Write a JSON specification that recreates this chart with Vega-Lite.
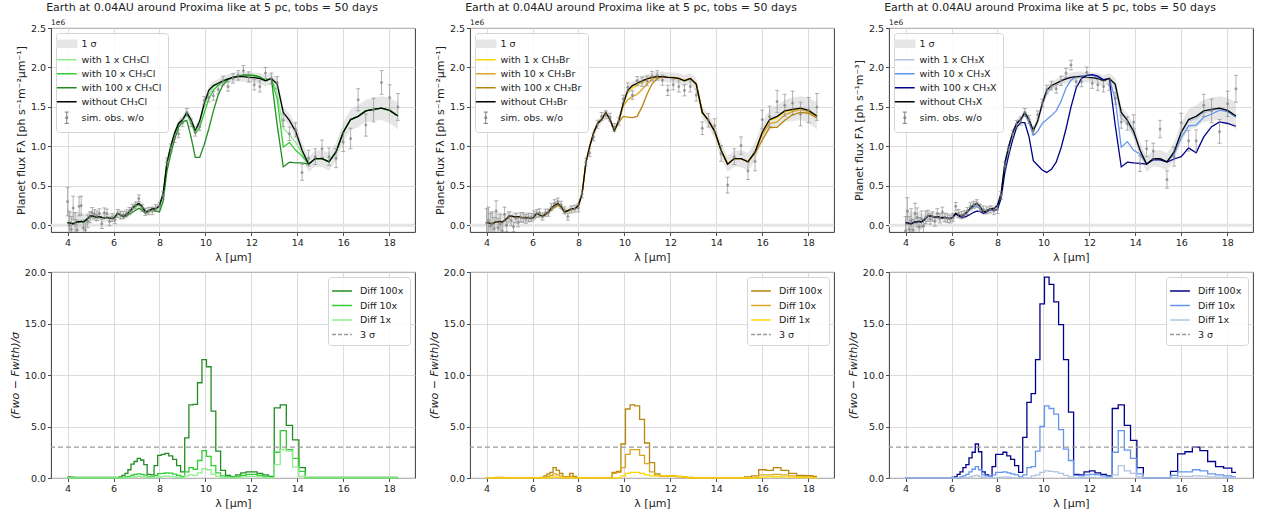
{
"$schema": "https://vega.github.io/schema/vega-lite/v6.json",
"padding": {"left": 8, "top": 1, "right": 5, "bottom": 5},
"datasets": {"d": [
{"l":4.0,"w":0.035,"s":0.18,"oA":0.30,"oB":0.03,"oC":-0.07,"A1":0.035,"A2":0.035,"A3":0.035,"B1":0.035,"B2":0.035,"B3":0.035,"C1":0.035,"C2":0.035,"C3":0.035,"dA1":0.01,"dA2":0.02,"dA3":0.1,"dB1":0.01,"dB2":0.02,"dB3":0.03,"dC1":0.01,"dC2":0.02,"dC3":0.03},
{"l":4.08,"w":0.03,"s":0.17,"oA":0.0,"oB":0.06,"oC":0.18,"A1":0.03,"A2":0.03,"A3":0.03,"B1":0.03,"B2":0.03,"B3":0.03,"C1":0.03,"C2":0.03,"C3":0.03,"dA1":0.01,"dA2":0.02,"dA3":0.1,"dB1":0.01,"dB2":0.02,"dB3":0.03,"dC1":0.01,"dC2":0.02,"dC3":0.03},
{"l":4.162,"w":0.025,"s":0.16,"oA":-0.05,"oB":-0.01,"oC":-0.05,"A1":0.025,"A2":0.025,"A3":0.025,"B1":0.025,"B2":0.025,"B3":0.025,"C1":0.025,"C2":0.025,"C3":0.025,"dA1":0.01,"dA2":0.02,"dA3":0.08,"dB1":0.01,"dB2":0.02,"dB3":0.03,"dC1":0.01,"dC2":0.02,"dC3":0.03},
{"l":4.245,"w":0.02,"s":0.15,"oA":0.22,"oB":0.02,"oC":0.06,"A1":0.02,"A2":0.02,"A3":0.02,"B1":0.02,"B2":0.02,"B3":0.02,"C1":0.02,"C2":0.02,"C3":0.02,"dA1":0.01,"dA2":0.02,"dA3":0.08,"dB1":0.01,"dB2":0.02,"dB3":0.03,"dC1":0.01,"dC2":0.02,"dC3":0.03},
{"l":4.33,"w":0.03,"s":0.14,"oA":0.02,"oB":-0.04,"oC":-0.06,"A1":0.03,"A2":0.03,"A3":0.03,"B1":0.03,"B2":0.03,"B3":0.03,"C1":0.03,"C2":0.03,"C3":0.03,"dA1":0.01,"dA2":0.02,"dA3":0.05,"dB1":0.01,"dB2":0.02,"dB3":0.03,"dC1":0.01,"dC2":0.02,"dC3":0.03},
{"l":4.416,"w":0.045,"s":0.13,"oA":-0.06,"oB":0.18,"oC":0.15,"A1":0.045,"A2":0.045,"A3":0.045,"B1":0.045,"B2":0.045,"B3":0.045,"C1":0.045,"C2":0.045,"C3":0.045,"dA1":0.01,"dA2":0.02,"dA3":0.05,"dB1":0.01,"dB2":0.02,"dB3":0.05,"dC1":0.01,"dC2":0.02,"dC3":0.03},
{"l":4.505,"w":0.045,"s":0.12,"oA":0.24,"oB":-0.03,"oC":0.10,"A1":0.045,"A2":0.045,"A3":0.045,"B1":0.045,"B2":0.045,"B3":0.045,"C1":0.045,"C2":0.045,"C3":0.045,"dA1":0.01,"dA2":0.02,"dA3":0.05,"dB1":0.01,"dB2":0.03,"dB3":0.06,"dC1":0.01,"dC2":0.02,"dC3":0.03},
{"l":4.595,"w":0.05,"s":0.12,"oA":0.25,"oB":0.02,"oC":-0.02,"A1":0.05,"A2":0.05,"A3":0.05,"B1":0.05,"B2":0.05,"B3":0.05,"C1":0.05,"C2":0.05,"C3":0.05,"dA1":0.01,"dA2":0.02,"dA3":0.05,"dB1":0.01,"dB2":0.03,"dB3":0.06,"dC1":0.01,"dC2":0.02,"dC3":0.03},
{"l":4.687,"w":0.04,"s":0.10,"oA":-0.03,"oB":-0.07,"oC":0.08,"A1":0.04,"A2":0.04,"A3":0.04,"B1":0.04,"B2":0.04,"B3":0.04,"C1":0.04,"C2":0.04,"C3":0.04,"dA1":0.01,"dA2":0.02,"dA3":0.05,"dB1":0.01,"dB2":0.03,"dB3":0.05,"dC1":0.01,"dC2":0.02,"dC3":0.03},
{"l":4.78,"w":0.06,"s":0.09,"oA":-0.06,"oB":0.14,"oC":-0.01,"A1":0.06,"A2":0.06,"A3":0.06,"B1":0.06,"B2":0.06,"B3":0.06,"C1":0.06,"C2":0.06,"C3":0.06,"dA1":0.01,"dA2":0.02,"dA3":0.05,"dB1":0.01,"dB2":0.02,"dB3":0.03,"dC1":0.01,"dC2":0.02,"dC3":0.03},
{"l":4.876,"w":0.085,"s":0.08,"oA":0.05,"oB":0.0,"oC":0.10,"A1":0.085,"A2":0.085,"A3":0.085,"B1":0.085,"B2":0.085,"B3":0.085,"C1":0.085,"C2":0.085,"C3":0.085,"dA1":0.01,"dA2":0.02,"dA3":0.05,"dB1":0.01,"dB2":0.02,"dB3":0.03,"dC1":0.01,"dC2":0.02,"dC3":0.03},
{"l":4.973,"w":0.115,"s":0.07,"oA":0.10,"oB":0.10,"oC":0.12,"A1":0.115,"A2":0.115,"A3":0.115,"B1":0.115,"B2":0.115,"B3":0.115,"C1":0.115,"C2":0.115,"C3":0.115,"dA1":0.01,"dA2":0.02,"dA3":0.05,"dB1":0.01,"dB2":0.02,"dB3":0.03,"dC1":0.01,"dC2":0.02,"dC3":0.03},
{"l":5.073,"w":0.12,"s":0.065,"oA":0.16,"oB":0.06,"oC":0.08,"A1":0.12,"A2":0.12,"A3":0.12,"B1":0.12,"B2":0.12,"B3":0.12,"C1":0.12,"C2":0.12,"C3":0.12,"dA1":0.01,"dA2":0.02,"dA3":0.05,"dB1":0.01,"dB2":0.02,"dB3":0.03,"dC1":0.01,"dC2":0.02,"dC3":0.03},
{"l":5.174,"w":0.11,"s":0.06,"oA":0.14,"oB":-0.02,"oC":0.11,"A1":0.11,"A2":0.11,"A3":0.11,"B1":0.11,"B2":0.11,"B3":0.11,"C1":0.11,"C2":0.11,"C3":0.11,"dA1":0.01,"dA2":0.02,"dA3":0.05,"dB1":0.01,"dB2":0.02,"dB3":0.03,"dC1":0.01,"dC2":0.02,"dC3":0.03},
{"l":5.278,"w":0.105,"s":0.06,"oA":0.12,"oB":0.09,"oC":0.05,"A1":0.105,"A2":0.105,"A3":0.105,"B1":0.105,"B2":0.105,"B3":0.105,"C1":0.105,"C2":0.105,"C3":0.105,"dA1":0.01,"dA2":0.02,"dA3":0.05,"dB1":0.01,"dB2":0.02,"dB3":0.03,"dC1":0.01,"dC2":0.02,"dC3":0.03},
{"l":5.383,"w":0.11,"s":0.06,"oA":0.15,"oB":0.04,"oC":0.15,"A1":0.11,"A2":0.11,"A3":0.11,"B1":0.11,"B2":0.11,"B3":0.11,"C1":0.11,"C2":0.11,"C3":0.11,"dA1":0.01,"dA2":0.02,"dA3":0.05,"dB1":0.01,"dB2":0.02,"dB3":0.03,"dC1":0.01,"dC2":0.02,"dC3":0.03},
{"l":5.491,"w":0.10,"s":0.06,"oA":0.02,"oB":0.10,"oC":0.09,"A1":0.10,"A2":0.10,"A3":0.10,"B1":0.10,"B2":0.10,"B3":0.10,"C1":0.10,"C2":0.10,"C3":0.10,"dA1":0.01,"dA2":0.02,"dA3":0.05,"dB1":0.01,"dB2":0.02,"dB3":0.03,"dC1":0.01,"dC2":0.02,"dC3":0.03},
{"l":5.601,"w":0.095,"s":0.06,"oA":0.16,"oB":0.10,"oC":0.17,"A1":0.095,"A2":0.095,"A3":0.095,"B1":0.095,"B2":0.095,"B3":0.095,"C1":0.095,"C2":0.095,"C3":0.095,"dA1":0.01,"dA2":0.02,"dA3":0.05,"dB1":0.01,"dB2":0.02,"dB3":0.03,"dC1":0.01,"dC2":0.02,"dC3":0.03},
{"l":5.713,"w":0.10,"s":0.055,"oA":0.15,"oB":0.08,"oC":0.10,"A1":0.10,"A2":0.10,"A3":0.10,"B1":0.10,"B2":0.10,"B3":0.10,"C1":0.10,"C2":0.10,"C3":0.10,"dA1":0.01,"dA2":0.02,"dA3":0.05,"dB1":0.01,"dB2":0.02,"dB3":0.03,"dC1":0.01,"dC2":0.02,"dC3":0.03},
{"l":5.827,"w":0.09,"s":0.055,"oA":0.05,"oB":0.10,"oC":0.09,"A1":0.09,"A2":0.09,"A3":0.09,"B1":0.09,"B2":0.09,"B3":0.09,"C1":0.09,"C2":0.09,"C3":0.09,"dA1":0.01,"dA2":0.02,"dA3":0.05,"dB1":0.01,"dB2":0.02,"dB3":0.03,"dC1":0.01,"dC2":0.02,"dC3":0.03},
{"l":5.944,"w":0.085,"s":0.05,"oA":0.10,"oB":0.10,"oC":0.08,"A1":0.085,"A2":0.085,"A3":0.085,"B1":0.085,"B2":0.085,"B3":0.085,"C1":0.085,"C2":0.085,"C3":0.085,"dA1":0.01,"dA2":0.02,"dA3":0.05,"dB1":0.01,"dB2":0.02,"dB3":0.03,"dC1":0.01,"dC2":0.02,"dC3":0.03},
{"l":6.063,"w":0.105,"s":0.05,"oA":0.07,"oB":0.13,"oC":0.10,"A1":0.105,"A2":0.105,"A3":0.105,"B1":0.105,"B2":0.105,"B3":0.105,"C1":0.105,"C2":0.105,"C3":0.105,"dA1":0.01,"dA2":0.02,"dA3":0.05,"dB1":0.01,"dB2":0.02,"dB3":0.03,"dC1":0.01,"dC2":0.02,"dC3":0.05},
{"l":6.184,"w":0.15,"s":0.05,"oA":0.15,"oB":0.15,"oC":0.24,"A1":0.15,"A2":0.15,"A3":0.15,"B1":0.15,"B2":0.15,"B3":0.15,"C1":0.15,"C2":0.15,"C3":0.145,"dA1":0.01,"dA2":0.02,"dA3":0.05,"dB1":0.01,"dB2":0.02,"dB3":0.03,"dC1":0.01,"dC2":0.02,"dC3":0.1},
{"l":6.307,"w":0.13,"s":0.05,"oA":0.13,"oB":0.16,"oC":0.15,"A1":0.13,"A2":0.13,"A3":0.13,"B1":0.13,"B2":0.13,"B3":0.13,"C1":0.13,"C2":0.13,"C3":0.12,"dA1":0.01,"dA2":0.02,"dA3":0.1,"dB1":0.01,"dB2":0.02,"dB3":0.03,"dC1":0.01,"dC2":0.02,"dC3":0.35},
{"l":6.434,"w":0.115,"s":0.045,"oA":0.13,"oB":0.11,"oC":0.13,"A1":0.115,"A2":0.115,"A3":0.105,"B1":0.115,"B2":0.115,"B3":0.115,"C1":0.115,"C2":0.115,"C3":0.10,"dA1":0.01,"dA2":0.05,"dA3":0.25,"dB1":0.01,"dB2":0.02,"dB3":0.05,"dC1":0.01,"dC2":0.1,"dC3":0.6},
{"l":6.562,"w":0.14,"s":0.045,"oA":0.15,"oB":0.16,"oC":0.14,"A1":0.14,"A2":0.14,"A3":0.12,"B1":0.14,"B2":0.14,"B3":0.135,"C1":0.14,"C2":0.14,"C3":0.105,"dA1":0.01,"dA2":0.1,"dA3":0.45,"dB1":0.01,"dB2":0.05,"dB3":0.2,"dC1":0.01,"dC2":0.2,"dC3":1.0},
{"l":6.694,"w":0.17,"s":0.045,"oA":0.18,"oB":0.16,"oC":0.18,"A1":0.17,"A2":0.165,"A3":0.14,"B1":0.17,"B2":0.17,"B3":0.16,"C1":0.17,"C2":0.17,"C3":0.12,"dA1":0.05,"dA2":0.15,"dA3":0.8,"dB1":0.01,"dB2":0.15,"dB3":0.4,"dC1":0.01,"dC2":0.35,"dC3":1.3},
{"l":6.827,"w":0.22,"s":0.045,"oA":0.22,"oB":0.23,"oC":0.24,"A1":0.215,"A2":0.21,"A3":0.165,"B1":0.22,"B2":0.21,"B3":0.20,"C1":0.22,"C2":0.205,"C3":0.14,"dA1":0.1,"dA2":0.28,"dA3":1.35,"dB1":0.05,"dB2":0.25,"dB3":0.55,"dC1":0.1,"dC2":0.6,"dC3":1.95},
{"l":6.964,"w":0.255,"s":0.045,"oA":0.25,"oB":0.28,"oC":0.26,"A1":0.25,"A2":0.24,"A3":0.19,"B1":0.255,"B2":0.243,"B3":0.225,"C1":0.255,"C2":0.235,"C3":0.165,"dA1":0.12,"dA2":0.35,"dA3":1.6,"dB1":0.1,"dB2":0.4,"dB3":1.0,"dC1":0.2,"dC2":0.85,"dC3":2.5},
{"l":7.103,"w":0.275,"s":0.045,"oA":0.34,"oB":0.30,"oC":0.28,"A1":0.27,"A2":0.26,"A3":0.215,"B1":0.275,"B2":0.265,"B3":0.25,"C1":0.275,"C2":0.24,"C3":0.18,"dA1":0.15,"dA2":0.4,"dA3":1.9,"dB1":0.08,"dB2":0.3,"dB3":0.75,"dC1":0.25,"dC2":1.1,"dC3":3.3},
{"l":7.245,"w":0.24,"s":0.045,"oA":0.22,"oB":0.26,"oC":0.22,"A1":0.235,"A2":0.225,"A3":0.19,"B1":0.24,"B2":0.232,"B3":0.225,"C1":0.24,"C2":0.21,"C3":0.175,"dA1":0.12,"dA2":0.35,"dA3":1.75,"dB1":0.05,"dB2":0.2,"dB3":0.45,"dC1":0.15,"dC2":0.8,"dC3":2.55},
{"l":7.39,"w":0.17,"s":0.045,"oA":0.17,"oB":0.19,"oC":0.20,"A1":0.17,"A2":0.165,"A3":0.15,"B1":0.17,"B2":0.17,"B3":0.165,"C1":0.17,"C2":0.16,"C3":0.15,"dA1":0.08,"dA2":0.28,"dA3":1.3,"dB1":0.01,"dB2":0.05,"dB3":0.1,"dC1":0.05,"dC2":0.3,"dC3":0.6},
{"l":7.538,"w":0.185,"s":0.045,"oA":0.18,"oB":0.11,"oC":0.19,"A1":0.185,"A2":0.183,"A3":0.175,"B1":0.185,"B2":0.185,"B3":0.18,"C1":0.185,"C2":0.185,"C3":0.17,"dA1":0.03,"dA2":0.1,"dA3":0.35,"dB1":0.01,"dB2":0.02,"dB3":0.1,"dC1":0.01,"dC2":0.2,"dC3":0.3},
{"l":7.689,"w":0.21,"s":0.045,"oA":0.18,"oB":0.20,"oC":0.20,"A1":0.21,"A2":0.208,"A3":0.20,"B1":0.21,"B2":0.21,"B3":0.195,"C1":0.21,"C2":0.21,"C3":0.20,"dA1":0.03,"dA2":0.1,"dA3":0.3,"dB1":0.01,"dB2":0.15,"dB3":0.45,"dC1":0.01,"dC2":0.15,"dC3":0.15},
{"l":7.842,"w":0.21,"s":0.045,"oA":0.22,"oB":0.21,"oC":0.18,"A1":0.21,"A2":0.205,"A3":0.18,"B1":0.21,"B2":0.21,"B3":0.205,"C1":0.21,"C2":0.21,"C3":0.19,"dA1":0.08,"dA2":0.25,"dA3":1.2,"dB1":0.01,"dB2":0.02,"dB3":0.15,"dC1":0.01,"dC2":0.3,"dC3":1.1},
{"l":7.999,"w":0.25,"s":0.05,"oA":0.24,"oB":0.22,"oC":0.20,"A1":0.25,"A2":0.235,"A3":0.17,"B1":0.25,"B2":0.25,"B3":0.25,"C1":0.25,"C2":0.25,"C3":0.20,"dA1":0.12,"dA2":0.42,"dA3":2.2,"dB1":0.01,"dB2":0.02,"dB3":0.03,"dC1":0.01,"dC2":0.55,"dC3":2.3},
{"l":8.159,"w":0.40,"s":0.05,"oA":0.38,"oB":0.40,"oC":0.38,"A1":0.395,"A2":0.375,"A3":0.30,"B1":0.40,"B2":0.40,"B3":0.40,"C1":0.40,"C2":0.385,"C3":0.34,"dA1":0.15,"dA2":0.45,"dA3":2.3,"dB1":0.01,"dB2":0.02,"dB3":0.03,"dC1":0.08,"dC2":0.55,"dC3":2.3},
{"l":8.322,"w":0.79,"s":0.05,"oA":0.80,"oB":0.80,"oC":0.75,"A1":0.785,"A2":0.765,"A3":0.68,"B1":0.79,"B2":0.79,"B3":0.79,"C1":0.79,"C2":0.765,"C3":0.67,"dA1":0.18,"dA2":0.5,"dA3":2.4,"dB1":0.01,"dB2":0.02,"dB3":0.03,"dC1":0.1,"dC2":0.6,"dC3":2.5},
{"l":8.489,"w":1.0,"s":0.05,"oA":0.98,"oB":0.92,"oC":0.95,"A1":0.995,"A2":0.975,"A3":0.90,"B1":1.0,"B2":1.0,"B3":1.0,"C1":1.0,"C2":0.975,"C3":0.89,"dA1":0.15,"dA2":0.48,"dA3":2.15,"dB1":0.01,"dB2":0.02,"dB3":0.03,"dC1":0.08,"dC2":0.5,"dC3":2.15},
{"l":8.659,"w":1.17,"s":0.05,"oA":1.10,"oB":1.12,"oC":1.15,"A1":1.17,"A2":1.15,"A3":1.09,"B1":1.17,"B2":1.17,"B3":1.17,"C1":1.17,"C2":1.17,"C3":1.08,"dA1":0.1,"dA2":0.38,"dA3":1.8,"dB1":0.01,"dB2":0.02,"dB3":0.03,"dC1":0.01,"dC2":0.4,"dC3":1.8},
{"l":8.832,"w":1.29,"s":0.05,"oA":1.16,"oB":1.28,"oC":1.28,"A1":1.29,"A2":1.28,"A3":1.24,"B1":1.29,"B2":1.29,"B3":1.29,"C1":1.29,"C2":1.29,"C3":1.24,"dA1":0.07,"dA2":0.25,"dA3":1.2,"dB1":0.01,"dB2":0.02,"dB3":0.03,"dC1":0.01,"dC2":0.3,"dC3":1.2},
{"l":9.009,"w":1.34,"s":0.05,"oA":1.30,"oB":1.38,"oC":1.32,"A1":1.34,"A2":1.335,"A3":1.31,"B1":1.34,"B2":1.34,"B3":1.34,"C1":1.34,"C2":1.34,"C3":1.30,"dA1":0.05,"dA2":0.15,"dA3":0.6,"dB1":0.01,"dB2":0.02,"dB3":0.03,"dC1":0.01,"dC2":0.1,"dC3":0.55},
{"l":9.189,"w":1.43,"s":0.05,"oA":1.43,"oB":1.40,"oC":1.43,"A1":1.425,"A2":1.41,"A3":1.33,"B1":1.43,"B2":1.43,"B3":1.43,"C1":1.43,"C2":1.41,"C3":1.30,"dA1":0.2,"dA2":0.6,"dA3":3.9,"dB1":0.01,"dB2":0.02,"dB3":0.03,"dC1":0.01,"dC2":0.3,"dC3":3.95},
{"l":9.373,"w":1.34,"s":0.05,"oA":1.30,"oB":1.37,"oC":1.34,"A1":1.33,"A2":1.30,"A3":1.12,"B1":1.34,"B2":1.34,"B3":1.34,"C1":1.34,"C2":1.30,"C3":1.12,"dA1":0.3,"dA2":1.0,"dA3":7.1,"dB1":0.01,"dB2":0.02,"dB3":0.03,"dC1":0.01,"dC2":1.0,"dC3":7.35},
{"l":9.56,"w":1.20,"s":0.05,"oA":1.18,"oB":1.24,"oC":1.20,"A1":1.19,"A2":1.16,"A3":0.86,"B1":1.20,"B2":1.20,"B3":1.20,"C1":1.20,"C2":1.14,"C3":0.82,"dA1":0.25,"dA2":0.85,"dA3":7.15,"dB1":0.01,"dB2":0.45,"dB3":0.55,"dC1":0.2,"dC2":1.1,"dC3":8.2},
{"l":9.751,"w":1.32,"s":0.05,"oA":1.25,"oB":1.32,"oC":1.40,"A1":1.30,"A2":1.24,"A3":0.86,"B1":1.32,"B2":1.31,"B3":1.30,"C1":1.32,"C2":1.19,"C3":0.76,"dA1":0.5,"dA2":1.7,"dA3":9.25,"dB1":0.01,"dB2":0.55,"dB3":0.65,"dC1":0.3,"dC2":2.6,"dC3":11.5},
{"l":9.946,"w":1.54,"s":0.05,"oA":1.58,"oB":1.60,"oC":1.55,"A1":1.50,"A2":1.42,"A3":1.02,"B1":1.54,"B2":1.51,"B3":1.38,"C1":1.50,"C2":1.29,"C3":0.70,"dA1":0.9,"dA2":2.65,"dA3":11.5,"dB1":0.2,"dB2":1.0,"dB3":3.3,"dC1":0.55,"dC2":5.0,"dC3":16.9},
{"l":10.145,"w":1.71,"s":0.055,"oA":1.62,"oB":1.75,"oC":1.72,"A1":1.67,"A2":1.60,"A3":1.22,"B1":1.69,"B2":1.59,"B3":1.37,"C1":1.67,"C2":1.34,"C3":0.67,"dA1":0.8,"dA2":2.1,"dA3":10.8,"dB1":0.45,"dB2":2.3,"dB3":6.7,"dC1":0.7,"dC2":7.0,"dC3":19.5},
{"l":10.348,"w":1.77,"s":0.055,"oA":1.64,"oB":1.65,"oC":1.77,"A1":1.755,"A2":1.71,"A3":1.45,"B1":1.745,"B2":1.63,"B3":1.365,"C1":1.74,"C2":1.39,"C3":0.71,"dA1":0.35,"dA2":1.2,"dA3":6.5,"dB1":0.55,"dB2":2.75,"dB3":7.1,"dC1":0.65,"dC2":6.75,"dC3":18.8},
{"l":10.555,"w":1.80,"s":0.055,"oA":1.72,"oB":1.83,"oC":1.73,"A1":1.795,"A2":1.775,"A3":1.65,"B1":1.775,"B2":1.66,"B3":1.38,"C1":1.785,"C2":1.45,"C3":0.80,"dA1":0.15,"dA2":0.5,"dA3":2.6,"dB1":0.55,"dB2":2.75,"dB3":7.0,"dC1":0.6,"dC2":6.2,"dC3":17.1},
{"l":10.766,"w":1.83,"s":0.06,"oA":1.83,"oB":1.82,"oC":1.83,"A1":1.83,"A2":1.82,"A3":1.78,"B1":1.81,"B2":1.72,"B3":1.50,"C1":1.83,"C2":1.57,"C3":0.98,"dA1":0.05,"dA2":0.2,"dA3":0.75,"dB1":0.45,"dB2":2.2,"dB3":5.7,"dC1":0.45,"dC2":4.7,"dC3":14.9},
{"l":10.982,"w":1.855,"s":0.06,"oA":1.76,"oB":1.83,"oC":1.93,"A1":1.855,"A2":1.85,"A3":1.845,"B1":1.845,"B2":1.79,"B3":1.66,"C1":1.855,"C2":1.74,"C3":1.22,"dA1":0.03,"dA2":0.1,"dA3":0.25,"dB1":0.3,"dB2":1.4,"dB3":3.4,"dC1":0.25,"dC2":2.8,"dC3":11.5},
{"l":11.201,"w":1.875,"s":0.06,"oA":1.86,"oB":1.89,"oC":2.03,"A1":1.875,"A2":1.875,"A3":1.875,"B1":1.875,"B2":1.85,"B3":1.79,"C1":1.875,"C2":1.84,"C3":1.50,"dA1":0.02,"dA2":0.05,"dA3":0.1,"dB1":0.2,"dB2":0.6,"dB3":1.5,"dC1":0.1,"dC2":1.7,"dC3":6.4},
{"l":11.425,"w":1.885,"s":0.06,"oA":1.90,"oB":1.90,"oC":1.82,"A1":1.89,"A2":1.89,"A3":1.89,"B1":1.885,"B2":1.88,"B3":1.86,"C1":1.885,"C2":1.88,"C3":1.74,"dA1":0.05,"dA2":0.15,"dA3":0.3,"dB1":0.2,"dB2":0.25,"dB3":0.4,"dC1":0.01,"dC2":0.25,"dC3":0.35},
{"l":11.654,"w":1.885,"s":0.065,"oA":1.96,"oB":1.84,"oC":1.82,"A1":1.895,"A2":1.90,"A3":1.905,"B1":1.885,"B2":1.885,"B3":1.88,"C1":1.885,"C2":1.895,"C3":1.86,"dA1":0.1,"dA2":0.25,"dA3":0.5,"dB1":0.2,"dB2":0.15,"dB3":0.2,"dC1":0.01,"dC2":0.2,"dC3":0.3},
{"l":11.887,"w":1.875,"s":0.065,"oA":1.88,"oB":1.71,"oC":1.94,"A1":1.895,"A2":1.90,"A3":1.905,"B1":1.875,"B2":1.875,"B3":1.875,"C1":1.875,"C2":1.90,"C3":1.90,"dA1":0.15,"dA2":0.35,"dA3":0.6,"dB1":0.2,"dB2":0.15,"dB3":0.2,"dC1":0.05,"dC2":0.3,"dC3":0.6},
{"l":12.125,"w":1.87,"s":0.065,"oA":1.78,"oB":1.78,"oC":1.80,"A1":1.89,"A2":1.895,"A3":1.90,"B1":1.87,"B2":1.87,"B3":1.875,"C1":1.87,"C2":1.90,"C3":1.91,"dA1":0.15,"dA2":0.35,"dA3":0.6,"dB1":0.2,"dB2":0.15,"dB3":0.2,"dC1":0.05,"dC2":0.35,"dC3":0.7},
{"l":12.367,"w":1.86,"s":0.07,"oA":1.76,"oB":1.76,"oC":1.78,"A1":1.87,"A2":1.875,"A3":1.88,"B1":1.86,"B2":1.86,"B3":1.865,"C1":1.86,"C2":1.88,"C3":1.89,"dA1":0.1,"dA2":0.25,"dA3":0.45,"dB1":0.15,"dB2":0.1,"dB3":0.15,"dC1":0.01,"dC2":0.3,"dC3":0.5},
{"l":12.614,"w":1.83,"s":0.07,"oA":1.93,"oB":1.71,"oC":1.76,"A1":1.83,"A2":1.835,"A3":1.835,"B1":1.83,"B2":1.83,"B3":1.835,"C1":1.83,"C2":1.84,"C3":1.845,"dA1":0.05,"dA2":0.15,"dA3":0.3,"dB1":0.1,"dB2":0.08,"dB3":0.1,"dC1":0.01,"dC2":0.2,"dC3":0.35},
{"l":12.867,"w":1.86,"s":0.07,"oA":1.86,"oB":1.76,"oC":1.78,"A1":1.86,"A2":1.86,"A3":1.86,"B1":1.86,"B2":1.86,"B3":1.86,"C1":1.86,"C2":1.86,"C3":1.86,"dA1":0.03,"dA2":0.08,"dA3":0.15,"dB1":0.01,"dB2":0.02,"dB3":0.05,"dC1":0.01,"dC2":0.1,"dC3":0.2},
{"l":13.124,"w":1.79,"s":0.075,"oA":1.81,"oB":1.65,"oC":1.61,"A1":1.68,"A2":1.60,"A3":1.27,"B1":1.79,"B2":1.79,"B3":1.79,"C1":1.77,"C2":1.60,"C3":1.27,"dA1":1.3,"dA2":2.5,"dA3":6.8,"dB1":0.01,"dB2":0.02,"dB3":0.03,"dC1":0.3,"dC2":2.5,"dC3":6.75},
{"l":13.387,"w":1.43,"s":0.08,"oA":1.33,"oB":1.23,"oC":1.31,"A1":1.23,"A2":0.99,"A3":0.74,"B1":1.43,"B2":1.43,"B3":1.43,"C1":1.35,"C2":0.99,"C3":0.74,"dA1":2.75,"dA2":4.6,"dA3":7.1,"dB1":0.01,"dB2":0.02,"dB3":0.03,"dC1":1.2,"dC2":4.6,"dC3":7.1},
{"l":13.654,"w":1.33,"s":0.085,"oA":1.16,"oB":1.33,"oC":1.29,"A1":1.15,"A2":1.05,"A3":0.80,"B1":1.33,"B2":1.33,"B3":1.33,"C1":1.30,"C2":1.06,"C3":0.80,"dA1":2.6,"dA2":2.75,"dA3":5.1,"dB1":0.01,"dB2":0.02,"dB3":0.03,"dC1":0.7,"dC2":2.7,"dC3":5.1},
{"l":13.927,"w":1.19,"s":0.09,"oA":1.21,"oB":1.26,"oC":1.31,"A1":1.05,"A2":0.95,"A3":0.79,"B1":1.19,"B2":1.19,"B3":1.19,"C1":1.15,"C2":0.95,"C3":0.79,"dA1":1.05,"dA2":1.9,"dA3":3.7,"dB1":0.01,"dB2":0.02,"dB3":0.03,"dC1":0.45,"dC2":1.9,"dC3":3.65},
{"l":14.206,"w":0.95,"s":0.10,"oA":0.67,"oB":0.91,"oC":0.78,"A1":0.91,"A2":0.88,"A3":0.79,"B1":0.95,"B2":0.95,"B3":0.95,"C1":0.94,"C2":0.90,"C3":0.785,"dA1":0.15,"dA2":0.65,"dA3":1.0,"dB1":0.01,"dB2":0.02,"dB3":0.03,"dC1":0.1,"dC2":0.4,"dC3":1.0},
{"l":14.49,"w":0.775,"s":0.10,"oA":0.85,"oB":0.51,"oC":0.97,"A1":0.775,"A2":0.775,"A3":0.775,"B1":0.775,"B2":0.775,"B3":0.775,"C1":0.775,"C2":0.775,"C3":0.775,"dA1":0.01,"dA2":0.02,"dA3":0.05,"dB1":0.01,"dB2":0.02,"dB3":0.03,"dC1":0.01,"dC2":0.02,"dC3":0.03},
{"l":14.78,"w":0.845,"s":0.10,"oA":0.87,"oB":0.87,"oC":0.94,"A1":0.845,"A2":0.845,"A3":0.845,"B1":0.845,"B2":0.845,"B3":0.845,"C1":0.845,"C2":0.845,"C3":0.83,"dA1":0.01,"dA2":0.02,"dA3":0.05,"dB1":0.01,"dB2":0.02,"dB3":0.03,"dC1":0.01,"dC2":0.02,"dC3":0.03},
{"l":15.075,"w":0.845,"s":0.11,"oA":0.97,"oB":1.01,"oC":1.22,"A1":0.845,"A2":0.845,"A3":0.845,"B1":0.845,"B2":0.845,"B3":0.845,"C1":0.845,"C2":0.845,"C3":0.83,"dA1":0.01,"dA2":0.02,"dA3":0.05,"dB1":0.01,"dB2":0.02,"dB3":0.03,"dC1":0.01,"dC2":0.02,"dC3":0.03},
{"l":15.377,"w":0.805,"s":0.11,"oA":0.87,"oB":0.69,"oC":0.58,"A1":0.805,"A2":0.805,"A3":0.805,"B1":0.805,"B2":0.805,"B3":0.805,"C1":0.805,"C2":0.805,"C3":0.80,"dA1":0.01,"dA2":0.02,"dA3":0.05,"dB1":0.01,"dB2":0.02,"dB3":0.1,"dC1":0.01,"dC2":0.02,"dC3":0.03},
{"l":15.684,"w":0.93,"s":0.12,"oA":0.85,"oB":0.81,"oC":0.87,"A1":0.93,"A2":0.93,"A3":0.93,"B1":0.93,"B2":0.93,"B3":0.91,"C1":0.93,"C2":0.90,"C3":0.84,"dA1":0.01,"dA2":0.02,"dA3":0.05,"dB1":0.01,"dB2":0.02,"dB3":0.2,"dC1":0.01,"dC2":0.25,"dC3":0.65},
{"l":15.998,"w":1.18,"s":0.12,"oA":1.055,"oB":1.34,"oC":1.30,"A1":1.18,"A2":1.18,"A3":1.18,"B1":1.18,"B2":1.15,"B3":1.08,"C1":1.165,"C2":1.11,"C3":0.87,"dA1":0.01,"dA2":0.02,"dA3":0.05,"dB1":0.08,"dB2":0.3,"dB3":0.8,"dC1":0.15,"dC2":0.6,"dC3":2.35},
{"l":16.318,"w":1.34,"s":0.13,"oA":1.10,"oB":1.38,"oC":1.07,"A1":1.34,"A2":1.34,"A3":1.34,"B1":1.33,"B2":1.29,"B3":1.24,"C1":1.32,"C2":1.26,"C3":0.98,"dA1":0.01,"dA2":0.02,"dA3":0.05,"dB1":0.1,"dB2":0.3,"dB3":0.75,"dC1":0.15,"dC2":0.6,"dC3":2.55},
{"l":16.645,"w":1.38,"s":0.14,"oA":1.59,"oB":1.57,"oC":1.07,"A1":1.38,"A2":1.38,"A3":1.38,"B1":1.365,"B2":1.31,"B3":1.24,"C1":1.35,"C2":1.27,"C3":0.92,"dA1":0.01,"dA2":0.02,"dA3":0.05,"dB1":0.12,"dB2":0.35,"dB3":1.0,"dC1":0.2,"dC2":0.8,"dC3":3.0},
{"l":16.977,"w":1.45,"s":0.14,"oA":1.27,"oB":1.52,"oC":1.52,"A1":1.45,"A2":1.45,"A3":1.45,"B1":1.44,"B2":1.40,"B3":1.33,"C1":1.425,"C2":1.37,"C3":1.12,"dA1":0.01,"dA2":0.02,"dA3":0.05,"dB1":0.1,"dB2":0.3,"dB3":0.75,"dC1":0.18,"dC2":0.7,"dC3":2.65},
{"l":17.317,"w":1.47,"s":0.15,"oA":1.46,"oB":1.55,"oC":1.45,"A1":1.47,"A2":1.47,"A3":1.47,"B1":1.46,"B2":1.44,"B3":1.40,"C1":1.455,"C2":1.41,"C3":1.25,"dA1":0.01,"dA2":0.02,"dA3":0.05,"dB1":0.08,"dB2":0.2,"dB3":0.45,"dC1":0.1,"dC2":0.4,"dC3":1.6},
{"l":17.663,"w":1.485,"s":0.15,"oA":1.81,"oB":1.41,"oC":1.19,"A1":1.485,"A2":1.485,"A3":1.485,"B1":1.48,"B2":1.465,"B3":1.43,"C1":1.475,"C2":1.46,"C3":1.31,"dA1":0.01,"dA2":0.02,"dA3":0.05,"dB1":0.05,"dB2":0.1,"dB3":0.25,"dC1":0.08,"dC2":0.3,"dC3":1.1},
{"l":18.017,"w":1.455,"s":0.16,"oA":1.62,"oB":1.46,"oC":1.54,"A1":1.455,"A2":1.455,"A3":1.455,"B1":1.455,"B2":1.44,"B3":1.42,"C1":1.45,"C2":1.44,"C3":1.29,"dA1":0.01,"dA2":0.02,"dA3":0.05,"dB1":0.03,"dB2":0.08,"dB3":0.22,"dC1":0.05,"dC2":0.2,"dC3":0.95},
{"l":18.377,"w":1.385,"s":0.17,"oA":1.50,"oB":1.50,"oC":1.73,"A1":1.385,"A2":1.385,"A3":1.385,"B1":1.385,"B2":1.375,"B3":1.36,"C1":1.38,"C2":1.37,"C3":1.255,"dA1":0.01,"dA2":0.02,"dA3":0.05,"dB1":0.02,"dB2":0.05,"dB3":0.15,"dC1":0.03,"dC2":0.1,"dC3":0.55}
]},
"data": {"name": "d"},
"columns": 3,
"spacing": {"row": 40, "column": 55},
"bounds": "flush",
"resolve": {"scale": {"color": "independent", "x": "independent", "y": "independent"}, "legend": {"color": "independent"}, "axis": {"x": "independent", "y": "independent"}},
"concat": [
{
 "width": 364, "height": 204,
 "title": {"text": "Earth at 0.04AU around Proxima like at 5 pc, tobs =  50 days"},
 "layer": [
  {"data": {"values": [{}]}, "mark": {"type": "rule", "color": "#e4e4e4", "strokeWidth": 3}, "encoding": {"y": {"datum": 0, "type": "quantitative", "title": "Planet flux Fλ [ph s⁻¹m⁻²μm⁻¹]", "scale": {"domain": [-0.085, 2.5], "nice": false, "zero": false}, "axis": {"values": [0, 0.5, 1, 1.5, 2, 2.5], "format": ".1f"}}}},
  {"mark": {"type": "errorband", "color": "#808080", "band": {"opacity": 0.2}, "clip": true},
   "encoding": {"x": {"field": "l", "type": "quantitative", "title": "λ [μm]", "scale": {"domain": [3.28, 19.12], "nice": false, "zero": false}, "axis": {"values": [4, 6, 8, 10, 12, 14, 16, 18]}},
    "y": {"field": "w", "type": "quantitative", "title": "Planet flux Fλ [ph s⁻¹m⁻²μm⁻¹]", "scale": {"domain": [-0.085, 2.5], "nice": false, "zero": false}, "axis": {"values": [0, 0.5, 1, 1.5, 2, 2.5], "format": ".1f"}},
    "yError": {"field": "s"}}},
  {"transform": [{"fold": ["A1", "A2", "A3", "w"], "as": ["k", "f"]}],
   "mark": {"type": "line", "strokeWidth": 1.3},
   "encoding": {"x": {"field": "l", "type": "quantitative", "title": "λ [μm]"}, "y": {"field": "f", "type": "quantitative", "title": "Planet flux Fλ [ph s⁻¹m⁻²μm⁻¹]"},
    "color": {"field": "k", "type": "nominal", "scale": {"domain": ["s", "A1", "A2", "A3", "w", "o"], "range": ["#e6e6e6", "#90ee90", "#32cd32", "#228b22", "#000000", "#808080"]},
     "legend": {"title": null, "orient": "top-left", "offset": 5, "rowPadding": 3,
      "labelExpr": "datum.value==='s'?'1 σ':datum.value==='A1'?'with 1 x CH₃Cl':datum.value==='A2'?'with 10 x CH₃Cl':datum.value==='A3'?'with 100 x CH₃Cl':datum.value==='w'?'without CH₃Cl':'sim. obs. w/o'",
      "encode": {"symbols": {"update": {
        "shape": {"signal": "datum.value==='s'?'M-1.4,-0.5H1.4V0.5H-1.4Z':datum.value==='o'?'M0,-0.8V0.8M-0.3,-0.8H0.3M-0.3,0.8H0.3M-0.12,-0.12H0.12V0.12H-0.12Z':'M-1.4,0H1.4'"},
        "fill": {"signal": "datum.value==='s'?'#e6e6e6':datum.value==='o'?'#808080':'transparent'"},
        "stroke": {"signal": "datum.value==='s'?'transparent':datum.value==='A1'?'#90ee90':datum.value==='A2'?'#32cd32':datum.value==='A3'?'#228b22':datum.value==='w'?'#000000':'#808080'"},
        "strokeWidth": {"signal": "datum.value==='o'?1:1.5"},
        "opacity": {"value": 1}, "fillOpacity": {"value": 1}, "strokeOpacity": {"value": 1}}}}}}}},
  {"mark": {"type": "errorbar", "ticks": {"size": 4}, "opacity": 0.6, "clip": true},
   "encoding": {"x": {"field": "l", "type": "quantitative", "title": "λ [μm]"}, "y": {"field": "oA", "type": "quantitative", "title": "Planet flux Fλ [ph s⁻¹m⁻²μm⁻¹]"}, "yError": {"field": "s"}, "color": {"datum": "o"}}},
  {"mark": {"type": "point", "filled": true, "size": 9, "opacity": 0.7},
   "encoding": {"x": {"field": "l", "type": "quantitative", "title": "λ [μm]"}, "y": {"field": "oA", "type": "quantitative", "title": "Planet flux Fλ [ph s⁻¹m⁻²μm⁻¹]"}, "color": {"datum": "o"}}},
  {"data": {"values": [{}]}, "mark": {"type": "text", "text": "1e6", "align": "left", "baseline": "bottom", "dy": -1, "fontSize": 7.5, "color": "#222"}, "encoding": {"x": {"datum": 3.28}, "y": {"datum": 2.5}}}
 ]
},
{
 "width": 364, "height": 204,
 "title": {"text": "Earth at 0.04AU around Proxima like at 5 pc, tobs =  50 days"},
 "layer": [
  {"data": {"values": [{}]}, "mark": {"type": "rule", "color": "#e4e4e4", "strokeWidth": 3}, "encoding": {"y": {"datum": 0, "type": "quantitative", "title": "Planet flux Fλ [ph s⁻¹m⁻²μm⁻¹]", "scale": {"domain": [-0.085, 2.5], "nice": false, "zero": false}, "axis": {"values": [0, 0.5, 1, 1.5, 2, 2.5], "format": ".1f"}}}},
  {"mark": {"type": "errorband", "color": "#808080", "band": {"opacity": 0.2}, "clip": true},
   "encoding": {"x": {"field": "l", "type": "quantitative", "title": "λ [μm]", "scale": {"domain": [3.28, 19.12], "nice": false, "zero": false}, "axis": {"values": [4, 6, 8, 10, 12, 14, 16, 18]}},
    "y": {"field": "w", "type": "quantitative", "title": "Planet flux Fλ [ph s⁻¹m⁻²μm⁻¹]", "scale": {"domain": [-0.085, 2.5], "nice": false, "zero": false}, "axis": {"values": [0, 0.5, 1, 1.5, 2, 2.5], "format": ".1f"}},
    "yError": {"field": "s"}}},
  {"transform": [{"fold": ["B1", "B2", "B3", "w"], "as": ["k", "f"]}],
   "mark": {"type": "line", "strokeWidth": 1.3},
   "encoding": {"x": {"field": "l", "type": "quantitative", "title": "λ [μm]"}, "y": {"field": "f", "type": "quantitative", "title": "Planet flux Fλ [ph s⁻¹m⁻²μm⁻¹]"},
    "color": {"field": "k", "type": "nominal", "scale": {"domain": ["s", "B1", "B2", "B3", "w", "o"], "range": ["#e6e6e6", "#ffd700", "#daa520", "#b8860b", "#000000", "#808080"]},
     "legend": {"title": null, "orient": "top-left", "offset": 5, "rowPadding": 3,
      "labelExpr": "datum.value==='s'?'1 σ':datum.value==='B1'?'with 1 x CH₃Br':datum.value==='B2'?'with 10 x CH₃Br':datum.value==='B3'?'with 100 x CH₃Br':datum.value==='w'?'without CH₃Br':'sim. obs. w/o'",
      "encode": {"symbols": {"update": {
        "shape": {"signal": "datum.value==='s'?'M-1.4,-0.5H1.4V0.5H-1.4Z':datum.value==='o'?'M0,-0.8V0.8M-0.3,-0.8H0.3M-0.3,0.8H0.3M-0.12,-0.12H0.12V0.12H-0.12Z':'M-1.4,0H1.4'"},
        "fill": {"signal": "datum.value==='s'?'#e6e6e6':datum.value==='o'?'#808080':'transparent'"},
        "stroke": {"signal": "datum.value==='s'?'transparent':datum.value==='B1'?'#ffd700':datum.value==='B2'?'#daa520':datum.value==='B3'?'#b8860b':datum.value==='w'?'#000000':'#808080'"},
        "strokeWidth": {"signal": "datum.value==='o'?1:1.5"},
        "opacity": {"value": 1}, "fillOpacity": {"value": 1}, "strokeOpacity": {"value": 1}}}}}}}},
  {"mark": {"type": "errorbar", "ticks": {"size": 4}, "opacity": 0.6, "clip": true},
   "encoding": {"x": {"field": "l", "type": "quantitative", "title": "λ [μm]"}, "y": {"field": "oB", "type": "quantitative", "title": "Planet flux Fλ [ph s⁻¹m⁻²μm⁻¹]"}, "yError": {"field": "s"}, "color": {"datum": "o"}}},
  {"mark": {"type": "point", "filled": true, "size": 9, "opacity": 0.7},
   "encoding": {"x": {"field": "l", "type": "quantitative", "title": "λ [μm]"}, "y": {"field": "oB", "type": "quantitative", "title": "Planet flux Fλ [ph s⁻¹m⁻²μm⁻¹]"}, "color": {"datum": "o"}}},
  {"data": {"values": [{}]}, "mark": {"type": "text", "text": "1e6", "align": "left", "baseline": "bottom", "dy": -1, "fontSize": 7.5, "color": "#222"}, "encoding": {"x": {"datum": 3.28}, "y": {"datum": 2.5}}}
 ]
},
{
 "width": 364, "height": 204,
 "title": {"text": "Earth at 0.04AU around Proxima like at 5 pc, tobs =  50 days"},
 "layer": [
  {"data": {"values": [{}]}, "mark": {"type": "rule", "color": "#e4e4e4", "strokeWidth": 3}, "encoding": {"y": {"datum": 0, "type": "quantitative", "title": "Planet flux Fλ [ph s⁻¹m⁻³]", "scale": {"domain": [-0.085, 2.5], "nice": false, "zero": false}, "axis": {"values": [0, 0.5, 1, 1.5, 2, 2.5], "format": ".1f"}}}},
  {"mark": {"type": "errorband", "color": "#808080", "band": {"opacity": 0.2}, "clip": true},
   "encoding": {"x": {"field": "l", "type": "quantitative", "title": "λ [μm]", "scale": {"domain": [3.28, 19.12], "nice": false, "zero": false}, "axis": {"values": [4, 6, 8, 10, 12, 14, 16, 18]}},
    "y": {"field": "w", "type": "quantitative", "title": "Planet flux Fλ [ph s⁻¹m⁻³]", "scale": {"domain": [-0.085, 2.5], "nice": false, "zero": false}, "axis": {"values": [0, 0.5, 1, 1.5, 2, 2.5], "format": ".1f"}},
    "yError": {"field": "s"}}},
  {"transform": [{"fold": ["C1", "C2", "C3", "w"], "as": ["k", "f"]}],
   "mark": {"type": "line", "strokeWidth": 1.3},
   "encoding": {"x": {"field": "l", "type": "quantitative", "title": "λ [μm]"}, "y": {"field": "f", "type": "quantitative", "title": "Planet flux Fλ [ph s⁻¹m⁻³]"},
    "color": {"field": "k", "type": "nominal", "scale": {"domain": ["s", "C1", "C2", "C3", "w", "o"], "range": ["#e6e6e6", "#b0c4de", "#6495ed", "#00008b", "#000000", "#808080"]},
     "legend": {"title": null, "orient": "top-left", "offset": 5, "rowPadding": 3,
      "labelExpr": "datum.value==='s'?'1 σ':datum.value==='C1'?'with 1 x CH₃X':datum.value==='C2'?'with 10 x CH₃X':datum.value==='C3'?'with 100 x CH₃X':datum.value==='w'?'without CH₃X':'sim. obs. w/o'",
      "encode": {"symbols": {"update": {
        "shape": {"signal": "datum.value==='s'?'M-1.4,-0.5H1.4V0.5H-1.4Z':datum.value==='o'?'M0,-0.8V0.8M-0.3,-0.8H0.3M-0.3,0.8H0.3M-0.12,-0.12H0.12V0.12H-0.12Z':'M-1.4,0H1.4'"},
        "fill": {"signal": "datum.value==='s'?'#e6e6e6':datum.value==='o'?'#808080':'transparent'"},
        "stroke": {"signal": "datum.value==='s'?'transparent':datum.value==='C1'?'#b0c4de':datum.value==='C2'?'#6495ed':datum.value==='C3'?'#00008b':datum.value==='w'?'#000000':'#808080'"},
        "strokeWidth": {"signal": "datum.value==='o'?1:1.5"},
        "opacity": {"value": 1}, "fillOpacity": {"value": 1}, "strokeOpacity": {"value": 1}}}}}}}},
  {"mark": {"type": "errorbar", "ticks": {"size": 4}, "opacity": 0.6, "clip": true},
   "encoding": {"x": {"field": "l", "type": "quantitative", "title": "λ [μm]"}, "y": {"field": "oC", "type": "quantitative", "title": "Planet flux Fλ [ph s⁻¹m⁻³]"}, "yError": {"field": "s"}, "color": {"datum": "o"}}},
  {"mark": {"type": "point", "filled": true, "size": 9, "opacity": 0.7},
   "encoding": {"x": {"field": "l", "type": "quantitative", "title": "λ [μm]"}, "y": {"field": "oC", "type": "quantitative", "title": "Planet flux Fλ [ph s⁻¹m⁻³]"}, "color": {"datum": "o"}}},
  {"data": {"values": [{}]}, "mark": {"type": "text", "text": "1e6", "align": "left", "baseline": "bottom", "dy": -1, "fontSize": 7.5, "color": "#222"}, "encoding": {"x": {"datum": 3.28}, "y": {"datum": 2.5}}}
 ]
},
{
 "width": 364, "height": 206,
 "layer": [
  {"transform": [{"fold": ["dA3", "dA2", "dA1"], "as": ["k", "v"]}],
   "mark": {"type": "line", "interpolate": "step", "strokeWidth": 1.3},
   "encoding": {"x": {"field": "l", "type": "quantitative", "title": "λ [μm]", "scale": {"domain": [3.28, 19.12], "nice": false, "zero": false}, "axis": {"values": [4, 6, 8, 10, 12, 14, 16, 18]}},
    "y": {"field": "v", "type": "quantitative", "title": "(Fwo − Fwith)/σ", "scale": {"domain": [0, 20], "nice": false, "zero": false}, "axis": {"values": [0, 2.5, 5, 7.5, 10, 12.5, 15, 17.5, 20], "format": ".1f", "titleFontStyle": "italic"}},
    "color": {"field": "k", "type": "nominal", "scale": {"domain": ["dA3", "dA2", "dA1", "t"], "range": ["#228b22", "#32cd32", "#90ee90", "#999999"]},
     "legend": {"title": null, "orient": "top-right", "offset": 5,
      "labelExpr": "datum.value==='dA3'?'Diff 100x':datum.value==='dA2'?'Diff 10x':datum.value==='dA1'?'Diff 1x':'3 σ'",
      "encode": {"symbols": {"update": {
        "shape": {"value": "M-1.4,0H1.4"},
        "stroke": {"signal": "datum.value==='dA3'?'#228b22':datum.value==='dA2'?'#32cd32':datum.value==='dA1'?'#90ee90':'#999999'"},
        "strokeDash": {"signal": "datum.value==='t'?[4,2]:[1,0]"},
        "strokeWidth": {"value": 1.5}, "opacity": {"value": 1}, "strokeOpacity": {"value": 1}}}}}}}},
  {"data": {"values": [{}]}, "mark": {"type": "rule", "strokeDash": [5, 3], "strokeWidth": 1.3},
   "encoding": {"y": {"datum": 3, "type": "quantitative"}, "color": {"datum": "t"}}}
 ]
},
{
 "width": 364, "height": 206,
 "layer": [
  {"transform": [{"fold": ["dB3", "dB2", "dB1"], "as": ["k", "v"]}],
   "mark": {"type": "line", "interpolate": "step", "strokeWidth": 1.3},
   "encoding": {"x": {"field": "l", "type": "quantitative", "title": "λ [μm]", "scale": {"domain": [3.28, 19.12], "nice": false, "zero": false}, "axis": {"values": [4, 6, 8, 10, 12, 14, 16, 18]}},
    "y": {"field": "v", "type": "quantitative", "title": "(Fwo − Fwith)/σ", "scale": {"domain": [0, 20], "nice": false, "zero": false}, "axis": {"values": [0, 2.5, 5, 7.5, 10, 12.5, 15, 17.5, 20], "format": ".1f", "titleFontStyle": "italic"}},
    "color": {"field": "k", "type": "nominal", "scale": {"domain": ["dB3", "dB2", "dB1", "t"], "range": ["#b8860b", "#daa520", "#ffd700", "#999999"]},
     "legend": {"title": null, "orient": "top-right", "offset": 5,
      "labelExpr": "datum.value==='dB3'?'Diff 100x':datum.value==='dB2'?'Diff 10x':datum.value==='dB1'?'Diff 1x':'3 σ'",
      "encode": {"symbols": {"update": {
        "shape": {"value": "M-1.4,0H1.4"},
        "stroke": {"signal": "datum.value==='dB3'?'#b8860b':datum.value==='dB2'?'#daa520':datum.value==='dB1'?'#ffd700':'#999999'"},
        "strokeDash": {"signal": "datum.value==='t'?[4,2]:[1,0]"},
        "strokeWidth": {"value": 1.5}, "opacity": {"value": 1}, "strokeOpacity": {"value": 1}}}}}}}},
  {"data": {"values": [{}]}, "mark": {"type": "rule", "strokeDash": [5, 3], "strokeWidth": 1.3},
   "encoding": {"y": {"datum": 3, "type": "quantitative"}, "color": {"datum": "t"}}}
 ]
},
{
 "width": 364, "height": 206,
 "layer": [
  {"transform": [{"fold": ["dC3", "dC2", "dC1"], "as": ["k", "v"]}],
   "mark": {"type": "line", "interpolate": "step", "strokeWidth": 1.3},
   "encoding": {"x": {"field": "l", "type": "quantitative", "title": "λ [μm]", "scale": {"domain": [3.28, 19.12], "nice": false, "zero": false}, "axis": {"values": [4, 6, 8, 10, 12, 14, 16, 18]}},
    "y": {"field": "v", "type": "quantitative", "title": "(Fwo − Fwith)/σ", "scale": {"domain": [0, 20], "nice": false, "zero": false}, "axis": {"values": [0, 2.5, 5, 7.5, 10, 12.5, 15, 17.5, 20], "format": ".1f", "titleFontStyle": "italic"}},
    "color": {"field": "k", "type": "nominal", "scale": {"domain": ["dC3", "dC2", "dC1", "t"], "range": ["#00008b", "#6495ed", "#b0c4de", "#999999"]},
     "legend": {"title": null, "orient": "top-right", "offset": 5,
      "labelExpr": "datum.value==='dC3'?'Diff 100x':datum.value==='dC2'?'Diff 10x':datum.value==='dC1'?'Diff 1x':'3 σ'",
      "encode": {"symbols": {"update": {
        "shape": {"value": "M-1.4,0H1.4"},
        "stroke": {"signal": "datum.value==='dC3'?'#00008b':datum.value==='dC2'?'#6495ed':datum.value==='dC1'?'#b0c4de':'#999999'"},
        "strokeDash": {"signal": "datum.value==='t'?[4,2]:[1,0]"},
        "strokeWidth": {"value": 1.5}, "opacity": {"value": 1}, "strokeOpacity": {"value": 1}}}}}}}},
  {"data": {"values": [{}]}, "mark": {"type": "rule", "strokeDash": [5, 3], "strokeWidth": 1.3},
   "encoding": {"y": {"datum": 3, "type": "quantitative"}, "color": {"datum": "t"}}}
 ]
}
],
"config": {
 "font": "DejaVu Sans",
 "view": {"stroke": "#222222", "strokeWidth": 0.9},
 "axis": {"grid": true, "gridColor": "#d3d3d3", "gridWidth": 0.8, "domain": false, "tickColor": "#222222", "tickSize": 3.5, "tickWidth": 0.8, "labelFontSize": 9.5, "labelColor": "#222222", "labelPadding": 2, "titleFontSize": 11, "titleFontWeight": "normal", "titleColor": "#222222", "titlePadding": 4},
 "title": {"fontSize": 11, "fontWeight": "normal", "color": "#222222", "frame": "group", "anchor": "middle", "dx": -21, "offset": 6},
 "legend": {"labelFontSize": 9.5, "labelColor": "#222222", "symbolType": "stroke", "symbolSize": 200, "symbolStrokeWidth": 1.5, "fillColor": "rgba(255,255,255,0.85)", "strokeColor": "#d4d4d4", "cornerRadius": 3, "padding": 6, "rowPadding": 1.5, "labelOffset": 10}
}
}
